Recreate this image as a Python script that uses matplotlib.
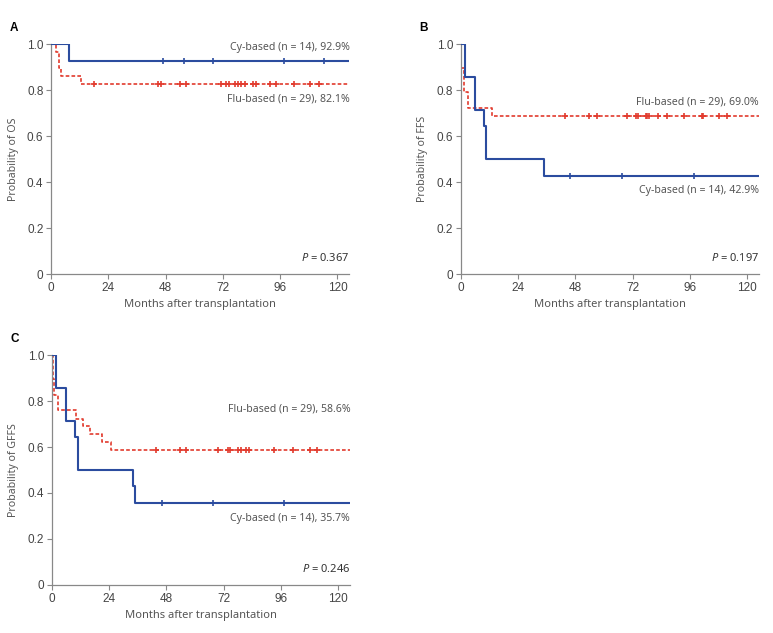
import numpy as np
import matplotlib.pyplot as plt

plt.rcParams['mathtext.fontset'] = 'custom'
plt.rcParams['mathtext.it'] = 'Noto Sans:italic'
plt.rcParams['mathtext.rm'] = 'Noto Sans'

blue = '#2b4c9f'
red = '#e23b2e'
grey = '#555555'

# panel A - overall survival
a_cy_times = [7.6]
a_cy_surv = [0.929]
a_cy_cens = [47.0, 55.8, 68.0, 97.6, 114.4]
a_flu_times = [2.2, 3.4, 4.0, 12.4]
a_flu_surv = [0.966, 0.897, 0.862, 0.828]
a_flu_cens = [18.1, 44.8, 45.9, 53.9, 56.7, 71.2, 73.4, 74.5, 77.0, 78.2, 79.6,
              81.3, 84.6, 85.8, 91.7, 94.2, 101.7, 108.4, 112.4]

# panel B - FFS
b_cy_times = [1.7, 6.0, 9.8, 10.6, 34.9]
b_cy_surv = [0.857, 0.714, 0.643, 0.500, 0.429]
b_cy_cens = [45.6, 67.6, 97.6]
b_flu_times = [0.3, 1.4, 3.1, 12.9]
b_flu_surv = [0.897, 0.793, 0.724, 0.690]
b_flu_cens = [43.9, 53.7, 57.0, 69.6, 73.5, 74.3, 77.7, 78.2, 79.0, 82.7, 86.3,
              93.5, 100.9, 101.6, 108.2, 111.4]

# panel C - GFFS
c_cy_times = [1.8, 5.9, 9.9, 10.9, 34.0, 34.7]
c_cy_surv = [0.857, 0.714, 0.643, 0.500, 0.429, 0.357]
c_cy_cens = [46.1, 67.4, 97.1]
c_flu_times = [0.3, 1.1, 2.4, 10.0, 12.9, 16.1, 21.0, 24.8]
c_flu_surv = [0.897, 0.828, 0.759, 0.724, 0.690, 0.655, 0.621, 0.586]
c_flu_cens = [43.7, 53.6, 56.3, 69.8, 73.8, 74.8, 77.9, 79.4, 81.2, 82.6, 93.1,
              101.2, 108.1, 111.1]

panels = [
    ('A', [0.066, 0.567, 0.386, 0.363], 'Probability of OS',
     a_cy_times, a_cy_surv, a_cy_cens, a_flu_times, a_flu_surv, a_flu_cens,
     'Cy-based (n = 14), 92.9%', 0.985, 'Flu-based (n = 29), 82.1%', 0.762, '0.367'),
    ('B', [0.596, 0.567, 0.386, 0.363], 'Probability of FFS',
     b_cy_times, b_cy_surv, b_cy_cens, b_flu_times, b_flu_surv, b_flu_cens,
     'Cy-based (n = 14), 42.9%', 0.363, 'Flu-based (n = 29), 69.0%', 0.75, '0.197'),
    ('C', [0.067, 0.076, 0.386, 0.363], 'Probability of GFFS',
     c_cy_times, c_cy_surv, c_cy_cens, c_flu_times, c_flu_surv, c_flu_cens,
     'Cy-based (n = 14), 35.7%', 0.29, 'Flu-based (n = 29), 58.6%', 0.765, '0.246'),
]

xmax = 125


def level(times, surv, t):
    x = np.r_[0, times]
    y = np.r_[1.0, surv]
    idx = np.searchsorted(x, t, side='right') - 1
    return y[idx]


fig = plt.figure(figsize=(7.73, 6.33), dpi=100)

for (letter, pos, ylabel, cy_t, cy_s, cy_c, fl_t, fl_s, fl_c,
     cy_lab, cy_y, fl_lab, fl_y, pval) in panels:
    ax = fig.add_axes(pos)
    # flu (red dashed) under cy (blue)
    fx = np.r_[0, fl_t, xmax]
    fy = np.r_[1.0, fl_s, fl_s[-1]]
    ax.step(fx, fy, where='post', color=red, lw=1.2, ls=(0, (2.2, 1.3)), zorder=2)
    ax.plot(fl_c, level(fl_t, fl_s, np.array(fl_c)), ls='none', marker='+',
            ms=5, mew=1.2, color=red, zorder=3)
    cx = np.r_[0, cy_t, xmax]
    cyy = np.r_[1.0, cy_s, cy_s[-1]]
    ax.step(cx, cyy, where='post', color=blue, lw=1.5, zorder=4)
    ax.plot(cy_c, level(cy_t, cy_s, np.array(cy_c)), ls='none', marker='+',
            ms=5, mew=1.2, color=blue, zorder=5)

    ax.set_xlim(0, xmax)
    ax.set_ylim(0, 1.0)
    ax.set_xticks([0, 24, 48, 72, 96, 120])
    ax.set_yticks([0, 0.2, 0.4, 0.6, 0.8, 1.0])
    ax.set_yticklabels(['0', '0.2', '0.4', '0.6', '0.8', '1.0'])
    for s in ['top', 'right']:
        ax.spines[s].set_visible(False)
    for s in ['left', 'bottom']:
        ax.spines[s].set_color('#888888')
        ax.spines[s].set_linewidth(0.9)
    ax.tick_params(direction='out', length=3.5, width=0.8, color='#888888',
                   labelcolor='#444444', labelsize=8.5, pad=2)
    for lab in ax.get_xticklabels() + ax.get_yticklabels():
        lab.set_fontfamily('Liberation Sans')
    ax.set_xlabel('Months after transplantation', fontsize=8, color=grey,
                  family='Noto Sans', labelpad=4)
    ax.set_ylabel(ylabel, fontsize=7.6, color=grey, family='Noto Sans', labelpad=6)

    ax.text(xmax, cy_y, cy_lab, ha='right', va='center', fontsize=7.6,
            color=grey, family='Noto Sans')
    ax.text(xmax, fl_y, fl_lab, ha='right', va='center', fontsize=7.6,
            color=grey, family='Noto Sans')
    ax.text(xmax, 0.068, r'$\mathit{P}$ = ' + pval, ha='right', va='center',
            fontsize=8, color='#333333', family='Noto Sans')

    fig.text(pos[0] - 0.053, pos[1] + pos[3] + 0.026, letter, fontsize=8.5,
             fontweight='bold', family='Liberation Sans', ha='left', va='center')

fig.savefig('out.png', dpi=100)
